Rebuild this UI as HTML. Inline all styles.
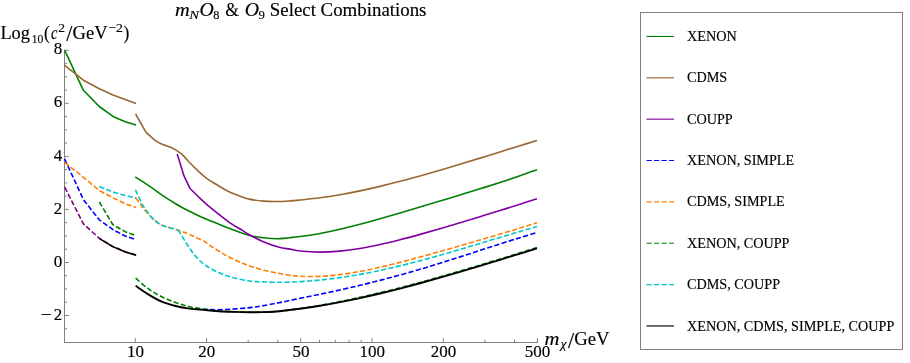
<!DOCTYPE html>
<html><head><meta charset="utf-8"><title>mN O8 &amp; O9 Select Combinations</title><style>
html,body{margin:0;padding:0;background:#fff}
svg{display:block;will-change:transform}
text{font-family:"Liberation Serif",serif;fill:#000;stroke:#000;stroke-width:0.15px}
.tk{font-size:17px}
.lg{font-size:14.2px}
</style></head><body>
<svg width="910" height="363" viewBox="0 0 910 363">
<rect width="910" height="363" fill="#fff"/>
<path d="M64.5 49.8 V342.5" stroke="#808080" stroke-width="1" fill="none"/>
<path d="M64.0 342.5 H538.1" stroke="#808080" stroke-width="1" fill="none"/>
<path d="M64.5 328.8 h2.6M64.5 315.5 h4.3M64.5 302.2 h2.6M64.5 289.0 h2.6M64.5 275.7 h2.6M64.5 262.5 h4.3M64.5 249.2 h2.6M64.5 235.9 h2.6M64.5 222.7 h2.6M64.5 209.4 h4.3M64.5 196.2 h2.6M64.5 182.9 h2.6M64.5 169.6 h2.6M64.5 156.4 h4.3M64.5 143.1 h2.6M64.5 129.9 h2.6M64.5 116.6 h2.6M64.5 103.3 h4.3M64.5 90.1 h2.6M64.5 76.8 h2.6M64.5 63.6 h2.6M64.5 50.3 h4.3M135.3 342.5 v-4.3M206.6 342.5 v-4.3M248.2 342.5 v-2.6M277.8 342.5 v-2.6M300.7 342.5 v-4.3M319.5 342.5 v-2.6M335.3 342.5 v-2.6M349.1 342.5 v-2.6M361.2 342.5 v-2.6M372.0 342.5 v-4.3M443.3 342.5 v-4.3M484.9 342.5 v-2.6M514.5 342.5 v-2.6M537.4 342.5 v-4.3" stroke="#808080" stroke-width="1" fill="none"/>
<text x="62.3" y="54.4" text-anchor="end" class="tk">8</text><text x="62.3" y="107.4" text-anchor="end" class="tk">6</text><text x="62.3" y="160.5" text-anchor="end" class="tk">4</text><text x="62.3" y="213.5" text-anchor="end" class="tk">2</text><text x="62.3" y="266.6" text-anchor="end" class="tk">0</text><text x="62.3" y="319.6" text-anchor="end" class="tk">2</text><text x="135.5" y="357" text-anchor="middle" class="tk">10</text><text x="206.8" y="357" text-anchor="middle" class="tk">20</text><text x="300.9" y="357" text-anchor="middle" class="tk">50</text><text x="372.2" y="357" text-anchor="middle" class="tk">100</text><text x="443.5" y="357" text-anchor="middle" class="tk">200</text><text x="537.6" y="357" text-anchor="middle" class="tk">500</text>
<g stroke-linejoin="round">
<path d="M64.7 50.4 L83.4 90.3 L99.3 106.5 L113.0 116.4 L125.2 121.8 L136.0 125.0" stroke="#007f00" stroke-width="1.6" fill="none"/>
<path d="M135.20 176.80 C137.63 178.38 145.38 183.30 149.80 186.30 C154.22 189.30 157.40 191.90 161.70 194.80 C166.00 197.70 170.97 200.95 175.60 203.70 C180.23 206.45 185.03 208.98 189.50 211.30 C193.97 213.62 197.77 215.55 202.40 217.60 C207.03 219.65 212.50 221.68 217.30 223.60 C222.10 225.52 225.85 227.13 231.20 229.10 C236.55 231.07 244.05 233.95 249.40 235.40 C254.75 236.85 258.67 237.23 263.30 237.80 C267.93 238.37 272.90 238.80 277.20 238.80 C281.50 238.80 285.30 238.17 289.10 237.80 C292.90 237.43 294.85 237.28 300.00 236.55 C305.15 235.82 313.33 234.64 320.00 233.42 C326.67 232.19 333.33 230.74 340.00 229.20 C346.67 227.67 353.33 225.97 360.00 224.23 C366.67 222.49 373.33 220.63 380.00 218.76 C386.67 216.89 393.33 214.94 400.00 212.99 C406.67 211.04 413.33 209.05 420.00 207.06 C426.67 205.07 433.33 203.06 440.00 201.05 C446.67 199.04 453.33 197.02 460.00 194.99 C466.67 192.95 473.33 190.91 480.00 188.83 C486.67 186.75 493.33 184.66 500.00 182.48 C506.67 180.31 513.83 177.92 520.00 175.79 C526.17 173.65 534.17 170.68 537.00 169.66" stroke="#007f00" stroke-width="1.6" fill="none"/>
<path d="M64.7 65.3 L83.4 80.2 L99.3 88.8 L113.0 95.0 L125.2 99.5 L136.0 103.5" stroke="#996633" stroke-width="1.6" fill="none"/>
<path d="M135.60 113.90 C139.03 119.97 142.47 126.03 145.90 132.10 C148.87 134.77 152.00 138.02 154.80 140.10 C157.60 142.18 160.05 143.42 162.70 144.60 C165.35 145.78 168.22 146.10 170.70 147.20 C173.18 148.30 175.45 149.75 177.60 151.20 C179.75 152.65 181.57 153.97 183.60 155.90 C185.63 157.83 187.43 160.33 189.80 162.80 C192.17 165.27 194.98 168.12 197.80 170.70 C200.62 173.28 203.40 175.88 206.70 178.30 C210.00 180.72 213.80 182.92 217.60 185.20 C221.40 187.48 225.87 190.22 229.50 192.00 C233.13 193.78 236.10 194.72 239.40 195.90 C242.70 197.08 245.33 198.23 249.30 199.10 C253.27 199.97 258.57 200.70 263.20 201.10 C267.83 201.50 272.63 201.53 277.10 201.50 C281.57 201.47 286.18 201.15 290.00 200.90 C293.82 200.65 295.00 200.52 300.00 200.01 C305.00 199.49 313.33 198.69 320.00 197.81 C326.67 196.93 333.33 195.87 340.00 194.71 C346.67 193.55 353.33 192.24 360.00 190.85 C366.67 189.46 373.33 187.94 380.00 186.36 C386.67 184.77 393.33 183.08 400.00 181.34 C406.67 179.61 413.33 177.78 420.00 175.92 C426.67 174.07 433.33 172.14 440.00 170.19 C446.67 168.24 453.33 166.24 460.00 164.23 C466.67 162.22 473.33 160.17 480.00 158.12 C486.67 156.07 493.33 154.00 500.00 151.93 C506.67 149.87 513.83 147.63 520.00 145.71 C526.17 143.80 534.17 141.32 537.00 140.44" stroke="#996633" stroke-width="1.6" fill="none"/>
<path d="M177.20 153.90 C179.43 161.17 181.67 168.43 183.90 175.70 C185.87 179.87 187.83 184.03 189.80 188.20 C192.67 191.07 195.53 193.93 198.40 196.80 C202.03 200.10 205.82 203.73 209.30 206.70 C212.78 209.67 215.65 211.78 219.30 214.60 C222.95 217.42 227.57 221.12 231.20 223.60 C234.83 226.08 238.07 227.63 241.10 229.50 C244.13 231.37 245.70 232.77 249.40 234.80 C253.10 236.83 258.33 239.62 263.30 241.70 C268.27 243.78 274.77 246.07 279.20 247.30 C283.63 248.53 286.43 248.47 289.90 249.10 C293.37 249.73 294.98 250.56 300.00 251.07 C305.02 251.57 313.33 252.14 320.00 252.15 C326.67 252.15 333.33 251.73 340.00 251.11 C346.67 250.48 353.33 249.52 360.00 248.42 C366.67 247.33 373.33 245.97 380.00 244.52 C386.67 243.07 393.33 241.44 400.00 239.75 C406.67 238.06 413.33 236.23 420.00 234.39 C426.67 232.54 433.33 230.60 440.00 228.66 C446.67 226.72 453.33 224.72 460.00 222.72 C466.67 220.73 473.33 218.70 480.00 216.67 C486.67 214.63 493.33 212.58 500.00 210.51 C506.67 208.43 513.83 206.18 520.00 204.20 C526.17 202.23 534.17 199.58 537.00 198.65" stroke="#8200a0" stroke-width="1.6" fill="none"/>
<path d="M64.7 159.1 L83.4 199.6 L99.3 219.8 L113.0 229.7 L125.2 236.0 L136.0 239.6" stroke="#0000ff" stroke-width="1.6" fill="none" stroke-dasharray="5.2 2.3"/>
<path d="M195.00 308.90 C197.38 309.02 204.60 309.48 209.30 309.60 C214.00 309.72 218.57 309.73 223.20 309.60 C227.83 309.47 232.63 309.13 237.10 308.80 C241.57 308.47 245.85 308.08 250.00 307.60 C254.15 307.12 257.05 306.73 262.00 305.90 C266.95 305.07 273.37 303.87 279.70 302.60 C286.03 301.33 293.28 299.68 300.00 298.28 C306.72 296.88 313.33 295.61 320.00 294.21 C326.67 292.82 333.33 291.41 340.00 289.93 C346.67 288.45 353.33 286.92 360.00 285.33 C366.67 283.74 373.33 282.08 380.00 280.36 C386.67 278.64 393.33 276.85 400.00 275.00 C406.67 273.16 413.33 271.24 420.00 269.27 C426.67 267.30 433.33 265.26 440.00 263.20 C446.67 261.13 453.33 259.00 460.00 256.87 C466.67 254.74 473.33 252.56 480.00 250.40 C486.67 248.24 493.33 246.06 500.00 243.93 C506.67 241.81 513.83 239.54 520.00 237.65 C526.17 235.77 534.17 233.45 537.00 232.62" stroke="#0000ff" stroke-width="1.6" fill="none" stroke-dasharray="5.2 2.3"/>
<path d="M64.7 162.4 L83.4 177.3 L99.3 190.5 L113.0 197.9 L125.2 203.7 L136.0 207.5" stroke="#ff8000" stroke-width="1.6" fill="none" stroke-dasharray="5.2 2.3"/>
<path d="M135.50 197.80 C136.93 199.63 138.60 201.63 139.80 203.30 C141.00 204.97 141.58 206.37 142.70 207.80 C143.82 209.23 144.98 210.27 146.50 211.90 C148.02 213.53 149.27 215.40 151.80 217.60 C154.33 219.80 157.40 223.05 161.70 225.10 C166.00 227.15 172.97 228.33 177.60 229.90 C182.23 231.47 185.03 232.58 189.50 234.50 C193.97 236.42 201.02 239.60 204.40 241.40 C207.78 243.20 206.27 243.00 209.80 245.30 C213.33 247.60 220.65 252.42 225.60 255.20 C230.55 257.98 234.87 260.02 239.50 262.00 C244.13 263.98 248.43 265.52 253.40 267.10 C258.37 268.68 264.02 270.27 269.30 271.50 C274.58 272.73 279.98 273.70 285.10 274.50 C290.22 275.30 294.18 275.97 300.00 276.28 C305.82 276.59 313.33 276.63 320.00 276.35 C326.67 276.07 333.33 275.40 340.00 274.58 C346.67 273.76 353.33 272.65 360.00 271.42 C366.67 270.20 373.33 268.76 380.00 267.25 C386.67 265.74 393.33 264.08 400.00 262.38 C406.67 260.68 413.33 258.87 420.00 257.06 C426.67 255.24 433.33 253.36 440.00 251.47 C446.67 249.59 453.33 247.67 460.00 245.75 C466.67 243.83 473.33 241.90 480.00 239.95 C486.67 238.01 493.33 236.06 500.00 234.07 C506.67 232.09 513.83 229.94 520.00 228.05 C526.17 226.16 534.17 223.61 537.00 222.72" stroke="#ff8000" stroke-width="1.6" fill="none" stroke-dasharray="5.2 2.3"/>
<path d="M99.3 202.0 L113.0 224.8 L125.2 231.7 L136.0 235.5" stroke="#007f00" stroke-width="1.6" fill="none" stroke-dasharray="5.2 2.3"/>
<path d="M135.60 278.20 C137.97 280.13 145.12 286.55 149.80 289.80 C154.48 293.05 159.07 295.47 163.70 297.70 C168.33 299.93 172.97 301.62 177.60 303.20 C182.23 304.78 186.87 306.20 191.50 307.20 C196.13 308.20 200.77 308.53 205.40 309.20 C210.03 309.87 214.35 310.75 219.30 311.20 C224.25 311.65 229.98 311.73 235.10 311.90 C240.22 312.07 245.18 312.17 250.00 312.20 C254.82 312.23 259.05 312.27 264.00 312.10 C268.95 311.93 273.70 311.79 279.70 311.20 C285.70 310.61 293.28 309.54 300.00 308.57 C306.72 307.60 313.33 306.54 320.00 305.38 C326.67 304.22 333.33 302.94 340.00 301.59 C346.67 300.24 353.33 298.76 360.00 297.28 C366.67 295.80 373.33 294.31 380.00 292.72 C386.67 291.14 393.33 289.48 400.00 287.77 C406.67 286.06 413.33 284.28 420.00 282.47 C426.67 280.65 433.33 278.78 440.00 276.88 C446.67 274.98 453.33 273.03 460.00 271.07 C466.67 269.10 473.33 267.10 480.00 265.09 C486.67 263.07 493.33 261.03 500.00 258.99 C506.67 256.95 513.83 254.74 520.00 252.84 C526.17 250.94 534.17 248.48 537.00 247.61" stroke="#007f00" stroke-width="1.6" fill="none" stroke-dasharray="5.2 2.3"/>
<path d="M99.3 186.4 L113.0 192.1 L125.2 195.5 L136.0 197.9" stroke="#00c8c8" stroke-width="1.6" fill="none" stroke-dasharray="5.2 2.3"/>
<path d="M135.40 189.80 C137.77 194.87 140.13 199.93 142.50 205.00 C145.60 209.20 148.60 214.25 151.80 217.60 C155.00 220.95 157.40 223.05 161.70 225.10 C166.00 227.15 174.95 229.10 177.60 229.90" stroke="#00c8c8" stroke-width="1.6" fill="none" stroke-dasharray="5.2 2.3"/>
<path d="M177.60 229.90 C178.40 230.87 179.20 231.83 180.00 232.80 C182.63 237.10 185.25 241.73 187.90 245.70 C190.55 249.67 192.92 253.30 195.90 256.60 C198.88 259.90 201.83 262.75 205.80 265.50 C209.77 268.25 215.07 271.05 219.70 273.10 C224.33 275.15 228.65 276.48 233.60 277.80 C238.55 279.12 245.03 280.35 249.40 281.00 C253.77 281.65 254.75 281.48 259.80 281.70 C264.85 281.92 273.00 282.31 279.70 282.30 C286.40 282.29 293.28 282.02 300.00 281.64 C306.72 281.26 313.33 280.72 320.00 280.05 C326.67 279.37 333.33 278.54 340.00 277.60 C346.67 276.65 353.33 275.56 360.00 274.36 C366.67 273.17 373.33 271.84 380.00 270.42 C386.67 269.01 393.33 267.47 400.00 265.87 C406.67 264.26 413.33 262.55 420.00 260.79 C426.67 259.02 433.33 257.17 440.00 255.29 C446.67 253.40 453.33 251.44 460.00 249.48 C466.67 247.51 473.33 245.49 480.00 243.48 C486.67 241.47 493.33 239.43 500.00 237.43 C506.67 235.42 513.83 233.27 520.00 231.45 C526.17 229.64 534.17 227.36 537.00 226.55" stroke="#00c8c8" stroke-width="1.6" fill="none" stroke-dasharray="5.2 2.3"/>
<path d="M64.7 187.2 L83.4 223.9 L99.3 238.3 L113.0 246.6 L125.2 251.7 L136.0 255.0" stroke="#800080" stroke-width="1.6" fill="none" stroke-dasharray="5.2 2.3"/>
<path d="M99.5 238.6 L113.2 246.9 L125.4 252.0 L136.2 255.3" stroke="#000" stroke-width="1.5" fill="none"/>
<path d="M135.60 285.80 C137.65 287.18 143.55 291.45 147.90 294.10 C152.25 296.75 157.08 299.72 161.70 301.70 C166.32 303.68 170.97 304.85 175.60 306.00 C180.23 307.15 184.53 307.93 189.50 308.60 C194.47 309.27 200.43 309.57 205.40 310.00 C210.37 310.43 214.35 310.88 219.30 311.20 C224.25 311.52 229.98 311.73 235.10 311.90 C240.22 312.07 245.18 312.17 250.00 312.20 C254.82 312.23 259.05 312.27 264.00 312.10 C268.95 311.93 273.70 311.77 279.70 311.20 C285.70 310.63 293.28 309.60 300.00 308.69 C306.72 307.77 313.33 306.81 320.00 305.72 C326.67 304.64 333.33 303.44 340.00 302.17 C346.67 300.89 353.33 299.52 360.00 298.08 C366.67 296.64 373.33 295.11 380.00 293.52 C386.67 291.94 393.33 290.28 400.00 288.57 C406.67 286.86 413.33 285.08 420.00 283.27 C426.67 281.45 433.33 279.58 440.00 277.68 C446.67 275.78 453.33 273.83 460.00 271.87 C466.67 269.90 473.33 267.90 480.00 265.89 C486.67 263.87 493.33 261.83 500.00 259.79 C506.67 257.75 513.83 255.54 520.00 253.64 C526.17 251.74 534.17 249.28 537.00 248.41" stroke="#000" stroke-width="1.9" fill="none"/>
</g>
<text transform="translate(174.96,15.50) scale(1.115,1.000)" font-size="18.3" font-style="italic">m</text>
<text transform="translate(189.30,18.50) scale(1.124,1.000)" font-size="13" font-style="italic">N</text>
<text transform="translate(199.42,15.50) scale(1.081,1.000)" font-size="18.3" font-style="italic">O</text>
<text transform="translate(213.33,18.80) scale(0.945,1.000)" font-size="13">8</text>
<text transform="translate(225.18,15.50) scale(0.966,1.000)" font-size="18.3">&amp;</text>
<text transform="translate(244.72,15.50) scale(1.081,1.000)" font-size="18.3" font-style="italic">O</text>
<text transform="translate(258.61,19.10) scale(0.982,1.000)" font-size="13">9</text>
<text transform="translate(269.81,15.50) scale(1.031,1.000)" font-size="18.3">Select Combinations</text>
<text transform="translate(0.39,38.50) scale(1.019,1.000)" font-size="18">Log</text>
<text transform="translate(31.69,42.50) scale(0.889,1.000)" font-size="13">10</text>
<text transform="translate(43.97,38.50) scale(0.968,1.000)" font-size="18">(</text>
<text transform="translate(50.90,38.50) scale(0.800,1.000)" font-size="18" font-style="italic">c</text>
<text transform="translate(58.26,31.60) scale(1.080,1.000)" font-size="12.6">2</text>
<text transform="translate(66.20,40.87) scale(1.220,1.306)" font-size="18">/</text>
<text transform="translate(72.52,38.50) scale(1.033,1.000)" font-size="18">GeV</text>
<text transform="translate(108.15,31.60) scale(1.094,1.000)" font-size="12.6">−2</text>
<text transform="translate(123.52,38.50) scale(0.968,1.000)" font-size="18">)</text>
<text transform="translate(544.54,345.30) scale(1.148,1.000)" font-size="18" font-style="italic">m</text>
<text transform="translate(560.46,348.30) scale(1.057,1.000)" font-size="13" font-style="italic">χ</text>
<text transform="translate(568.10,348.17) scale(1.240,1.314)" font-size="18">/</text>
<text transform="translate(574.32,345.30) scale(1.039,1.000)" font-size="18">GeV</text>
<text transform="translate(40.62,319.60) scale(1.175,1.000)" font-size="17">−</text>
<rect x="640.5" y="12.5" width="262" height="337" fill="none" stroke="#808080" stroke-width="1"/>
<path d="M646.5 36.45 H674.0" stroke="#007f00" stroke-width="1.15" fill="none"/><text x="687.0" y="41.00" class="lg">XENON</text><path d="M646.5 77.81 H674.0" stroke="#996633" stroke-width="1.15" fill="none"/><text x="687.0" y="82.37" class="lg">CDMS</text><path d="M646.5 119.17 H674.0" stroke="#8200a0" stroke-width="1.15" fill="none"/><text x="687.0" y="123.74" class="lg">COUPP</text><path d="M646.5 160.53 H674.0" stroke="#0000ff" stroke-width="1.15" fill="none" stroke-dasharray="5.2 2.3"/><text x="687.0" y="165.11" class="lg">XENON, SIMPLE</text><path d="M646.5 201.89 H674.0" stroke="#ff8000" stroke-width="1.15" fill="none" stroke-dasharray="5.2 2.3"/><text x="687.0" y="206.48" class="lg">CDMS, SIMPLE</text><path d="M646.5 243.25 H674.0" stroke="#007f00" stroke-width="1.15" fill="none" stroke-dasharray="5.2 2.3"/><text x="687.0" y="247.85" class="lg">XENON, COUPP</text><path d="M646.5 284.61 H674.0" stroke="#00c8c8" stroke-width="1.15" fill="none" stroke-dasharray="5.2 2.3"/><text x="687.0" y="289.22" class="lg">CDMS, COUPP</text><path d="M646.5 325.97 H674.0" stroke="#000" stroke-width="1.15" fill="none"/><text x="687.0" y="330.59" class="lg">XENON, CDMS, SIMPLE, COUPP</text>
</svg>
</body></html>
